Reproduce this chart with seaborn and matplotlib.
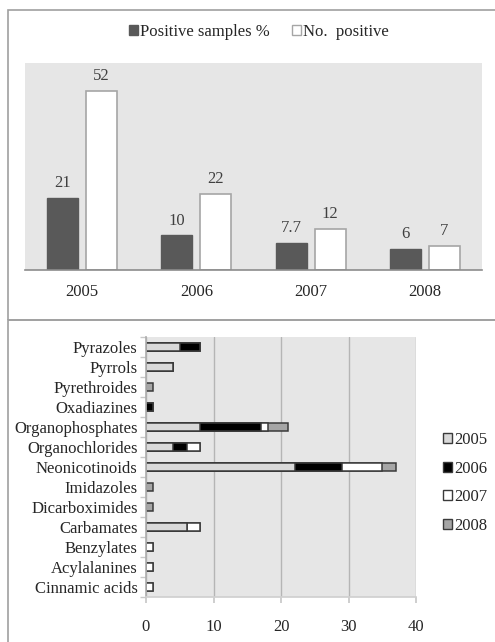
import numpy as np
import pandas as pd
import matplotlib
matplotlib.use("Agg")
import matplotlib.pyplot as plt
import matplotlib.patches as mpatches
import seaborn as sns

# --- data ---
years = ["2005", "2006", "2007", "2008"]
pos_pct = [21, 10, 7.7, 6]
no_pos = [52, 22, 12, 7]
pct_labels = ["21", "10", "7.7", "6"]
no_labels = ["52", "22", "12", "7"]

classes = ["Pyrazoles", "Pyrrols", "Pyrethroides", "Oxadiazines", "Organophosphates",
           "Organochlorides", "Neonicotinoids", "Imidazoles", "Dicarboximides",
           "Carbamates", "Benzylates", "Acylalanines", "Cinnamic acids"]
c2005 = [5, 4, 0, 0, 8, 4, 22, 0, 0, 6, 0, 0, 0]
c2006 = [3, 0, 0, 1, 9, 2, 7, 0, 0, 0, 0, 0, 0]
c2007 = [0, 0, 0, 0, 1, 2, 6, 0, 0, 2, 1, 1, 1]
c2008 = [0, 0, 1, 0, 3, 0, 2, 1, 1, 0, 0, 0, 0]

sns.set_theme(style="white")
plt.rcParams["font.family"] = ["Liberation Serif", "DejaVu Serif"]
plt.rcParams["font.size"] = 12

W, H = 495, 642
fig = plt.figure(figsize=(W / 100, H / 100), dpi=100)
fig.patch.set_facecolor("white")

# panel borders
fig.patches.append(mpatches.Rectangle((8 / W, 1 - 320 / H), 1.2, (310) / H,
                                      transform=fig.transFigure, fill=False,
                                      edgecolor="#a0a0a0", lw=1.2))
fig.patches.append(mpatches.Rectangle((8 / W, -0.1), 1.2, 0.1 + (1 - 320 / H),
                                      transform=fig.transFigure, fill=False,
                                      edgecolor="#a0a0a0", lw=1.2))

bg = "#e6e6e6"

# --- top chart ---
ax1 = fig.add_axes([25 / W, 1 - 270 / H, (482 - 25) / W, (270 - 63) / H])
ax1.set_facecolor(bg)
df1 = pd.DataFrame({
    "year": years * 2,
    "value": pos_pct + no_pos,
    "series": ["Positive samples %"] * 4 + ["No.  positive"] * 4,
})
sns.barplot(data=df1, x="year", y="value", hue="series", ax=ax1,
            palette=["#595959", "white"], width=0.68, gap=0.2,
            legend=False, saturation=1)
for bar in ax1.containers[0]:
    bar.set_edgecolor("#595959")
for bar in ax1.containers[1]:
    bar.set_edgecolor("#a6a6a6")
    bar.set_linewidth(1.2)
ax1.bar_label(ax1.containers[0], labels=pct_labels, padding=5, color="#404040", fontsize=12)
ax1.bar_label(ax1.containers[1], labels=no_labels, padding=5, color="#404040", fontsize=12)
ax1.set_ylim(0, 60)
ax1.set_xlim(-0.5, 3.5)
ax1.set_yticks([])
ax1.set_xlabel("")
ax1.set_ylabel("")
ax1.tick_params(axis="x", length=0, pad=10, labelsize=12)
for s in ["top", "right", "left"]:
    ax1.spines[s].set_visible(False)
ax1.spines["bottom"].set_color("#8c8c8c")
ax1.spines["bottom"].set_linewidth(1.2)

h1 = [mpatches.Patch(facecolor="#595959", edgecolor="#595959"),
      mpatches.Patch(facecolor="white", edgecolor="#a6a6a6")]
fig.legend(h1, ["Positive samples %", "No.  positive"], loc="center",
           bbox_to_anchor=(259 / W, 1 - 32 / H), ncol=2, frameon=False,
           handlelength=0.55, handleheight=0.55, handletextpad=0.15,
           columnspacing=1.3, fontsize=12)

# --- bottom chart (stacked via cumulative overlapping bars) ---
ax2 = fig.add_axes([146 / W, 1 - 597 / H, (416 - 146) / W, (597 - 337) / H])
ax2.set_facecolor(bg)
series = [c2005, c2006, c2007, c2008]
colors = ["#d9d9d9", "black", "white", "#a6a6a6"]
cum = np.cumsum(np.array(series), axis=0)
for i in range(3, -1, -1):
    sns.barplot(x=cum[i], y=classes, orient="h", ax=ax2, color=colors[i],
                saturation=1, width=0.4, edgecolor="#3a3a3a", linewidth=1.1)
ax2.set_xlim(0, 40)
ax2.set_ylim(12.5, -0.5)
ax2.set_xticks([0, 10, 20, 30, 40])
ax2.xaxis.grid(True, color="#b5b5b5", lw=1.0)
ax2.set_axisbelow(True)
ax2.set_xlabel("")
ax2.set_ylabel("")
ax2.tick_params(axis="x", length=4, color="#c8c8c8", pad=12, labelsize=12, bottom=True)
ax2.tick_params(axis="y", length=0, pad=6, labelsize=12)
ax2.set_yticks(np.arange(-0.5, 13, 1), minor=True)
ax2.tick_params(axis="y", which="minor", length=4, color="#c8c8c8", left=True)
for s in ["top", "right"]:
    ax2.spines[s].set_visible(False)
ax2.spines["left"].set_color("#b0b0b0")
ax2.spines["bottom"].set_color("#d0d0d0")

h2 = [mpatches.Patch(facecolor=c, edgecolor="#3a3a3a") for c in colors]
fig.legend(h2, years, loc="center left", bbox_to_anchor=(428 / W, 1 - 483 / H),
           frameon=False, handlelength=0.55, handleheight=0.55, handletextpad=0.1,
           labelspacing=0.75, fontsize=12)

fig.savefig("out.png", dpi=100, facecolor="white")
